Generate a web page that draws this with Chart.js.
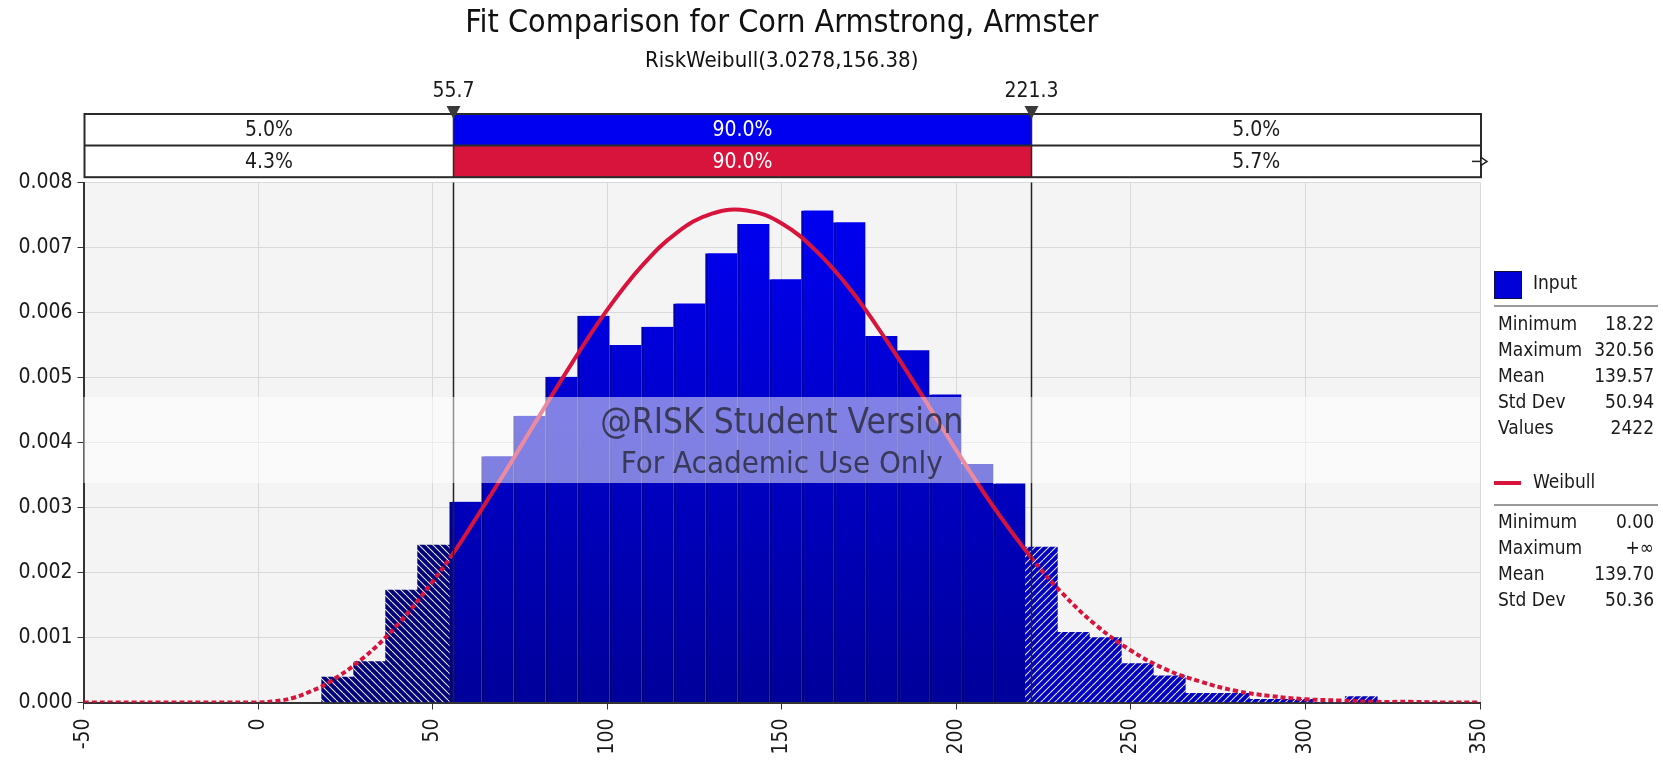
<!DOCTYPE html>
<html>
<head>
<meta charset="utf-8">
<title>Fit Comparison for Corn Armstrong, Armster</title>
<script src="https://cdn.jsdelivr.net/npm/chart.js@4.4.1/dist/chart.umd.min.js"></script>
<style>
  html, body { margin: 0; padding: 0; background: #fff; }
</style>
</head>
<body>
<canvas id="fitChart" width="1663" height="768"></canvas>
<script>
// histogram of the input (density per bin, 33 bins from the minimum)
var binStart = 18.22;
var binWidth = 9.162;
var inputDensity = [0.00039, 0.00063, 0.00173, 0.00242, 0.00309, 0.00379, 0.00441, 0.00501,
    0.00595, 0.00550, 0.00578, 0.00614, 0.00691, 0.00736, 0.00651, 0.00757, 0.00739,
    0.00564, 0.00542, 0.00474, 0.00367, 0.00337, 0.00239, 0.00108, 0.00100, 0.00060,
    0.00041, 0.00014, 0.00014, 0.00005, 0.00005, 0.00000, 0.00009];

// fitted Weibull curve
var curveX = [-50, 0, 5, 10, 15, 20, 30, 40, 50, 55.7, 60, 70, 80, 90, 100, 110, 120, 130, 140,
    150, 160, 170, 180, 190, 200, 210, 221.3, 230, 240, 250, 260, 270, 280, 290, 300,
    310, 320, 330, 340, 350];
var curveY = [0, 0, 0.00002, 0.00007, 0.00017, 0.00030, 0.00068, 0.00120, 0.00186, 0.00228,
    0.00263, 0.00348, 0.00436, 0.00523, 0.00604, 0.00672, 0.00723, 0.00752, 0.00757, 0.00737,
    0.00694, 0.00633, 0.00557, 0.00474, 0.00388, 0.00306, 0.00224, 0.00170, 0.00119,
    0.00080, 0.00051, 0.00032, 0.00018, 0.00010, 0.00005, 0.00003, 0.00001, 0.00001, 0, 0];

var leftDelimiter = 55.7;
var rightDelimiter = 221.3;
var inputBand = ['5.0%', '90.0%', '5.0%'];
var fitBand = ['4.3%', '90.0%', '5.7%'];

var inputStatLabels = ['Minimum', 'Maximum', 'Mean', 'Std Dev', 'Values'];
var inputStatValues = ['18.22', '320.56', '139.57', '50.94', '2422'];
var fitStatLabels = ['Minimum', 'Maximum', 'Mean', 'Std Dev'];
var fitStatValues = ['0.00', '+\u221E', '139.70', '50.36'];

var xMin = -50, xMax = 350, xStep = 50;
var yMin = 0, yMax = 0.008, yStep = 0.001;

var FONT = "'DejaVu Sans Condensed', 'Liberation Sans', Arial, sans-serif";
var INK = '#1a1a1a';
var BLUE = '#0000f0';
var CRIMSON = '#d8143c';

function makeHatch(base, back) {
    var t = 7;
    var c = document.createElement('canvas');
    c.width = t;
    c.height = t;
    var g = c.getContext('2d');
    g.fillStyle = base;
    g.fillRect(0, 0, t, t);
    g.strokeStyle = 'rgba(255,255,255,0.9)';
    g.lineWidth = 1.1;
    g.beginPath();
    for (var o = -t; o <= t; o += t) {
        if (back) {
            g.moveTo(o, 0);
            g.lineTo(o + t, t);
        } else {
            g.moveTo(o, t);
            g.lineTo(o + t, 0);
        }
    }
    g.stroke();
    return g.createPattern(c, 'repeat');
}

var hatchLeft = makeHatch('#000078', true);
var hatchRight = makeHatch('#0000c0', false);

var histPoints = inputDensity.map(function (v, i) {
    return { x: binStart + (i + 0.5) * binWidth, y: v };
});
var curvePoints = curveX.map(function (x, i) {
    return { x: x, y: curveY[i] };
});

function binZone(i) {
    var c = binStart + (i + 0.5) * binWidth;
    if (c < leftDelimiter) return 'left';
    if (c > rightDelimiter) return 'right';
    return 'mid';
}

function vGradient(chart, bottom, top) {
    var area = chart.chartArea;
    if (!area) return top;
    var g = chart.ctx.createLinearGradient(0, area.bottom, 0, area.top);
    g.addColorStop(0, bottom);
    g.addColorStop(1, top);
    return g;
}

var decor = {
    id: 'decor',
    beforeDraw: function (chart) {
        var ctx = chart.ctx, a = chart.chartArea;
        ctx.save();
        ctx.fillStyle = '#ffffff';
        ctx.fillRect(0, 0, chart.width, chart.height);
        ctx.fillStyle = '#f4f4f4';
        ctx.fillRect(a.left, a.top, a.right - a.left, a.bottom - a.top);
        ctx.restore();
    },
    afterDatasetsDraw: function (chart) {
        var ctx = chart.ctx, a = chart.chartArea, xs = chart.scales.x;
        ctx.save();
        // delimiter lines through the plot
        ctx.strokeStyle = '#222';
        ctx.lineWidth = 1.5;
        [leftDelimiter, rightDelimiter].forEach(function (v) {
            var px = Math.round(xs.getPixelForValue(v)) + 0.5;
            ctx.beginPath();
            ctx.moveTo(px, a.top);
            ctx.lineTo(px, a.bottom);
            ctx.stroke();
        });
        // student version watermark
        ctx.fillStyle = 'rgba(255,255,255,0.5)';
        ctx.fillRect(a.left, 397, a.right - a.left, 86);
        var cx = (a.left + a.right) / 2;
        ctx.fillStyle = 'rgba(45,45,65,0.85)';
        ctx.textAlign = 'center';
        ctx.textBaseline = 'alphabetic';
        ctx.font = '35px ' + FONT;
        ctx.fillText('@RISK Student Version', cx, 433);
        ctx.font = '31px ' + FONT;
        ctx.fillText('For Academic Use Only', cx, 473);
        ctx.restore();
    },
    afterDraw: function (chart) {
        var ctx = chart.ctx, a = chart.chartArea, xs = chart.scales.x;
        var left = a.left + 1, right = a.right + 1;
        var pL = Math.round(xs.getPixelForValue(leftDelimiter)) + 0.5;
        var pR = Math.round(xs.getPixelForValue(rightDelimiter)) + 0.5;
        var top = 114, rowH = 31.6;
        ctx.save();

        // probability bands
        ctx.fillStyle = BLUE;
        ctx.fillRect(pL, top, pR - pL, rowH);
        ctx.fillStyle = CRIMSON;
        ctx.fillRect(pL, top + rowH, pR - pL, rowH);
        ctx.strokeStyle = '#2a2a2a';
        ctx.lineWidth = 2;
        ctx.strokeRect(left, top, right - left, rowH * 2);
        ctx.beginPath();
        ctx.moveTo(left, top + rowH);
        ctx.lineTo(right, top + rowH);
        ctx.stroke();
        ctx.lineWidth = 1.5;
        ctx.beginPath();
        ctx.moveTo(pL, top);
        ctx.lineTo(pL, top + rowH * 2);
        ctx.moveTo(pR, top);
        ctx.lineTo(pR, top + rowH * 2);
        ctx.stroke();

        ctx.font = '21px ' + FONT;
        ctx.textAlign = 'center';
        ctx.textBaseline = 'middle';
        var centres = [(left + pL) / 2, (pL + pR) / 2, (pR + right) / 2];
        [inputBand, fitBand].forEach(function (row, r) {
            row.forEach(function (txt, k) {
                ctx.fillStyle = k === 1 ? '#ffffff' : INK;
                ctx.fillText(txt, centres[k], top + rowH * r + rowH / 2 + 1);
            });
        });

        // small arrow at the end of the fit row
        ctx.strokeStyle = '#222';
        ctx.lineWidth = 1.5;
        ctx.beginPath();
        ctx.moveTo(right - 9, top + rowH * 1.5);
        ctx.lineTo(right, top + rowH * 1.5);
        ctx.stroke();
        ctx.beginPath();
        ctx.moveTo(right, top + rowH * 1.5 - 4);
        ctx.lineTo(right + 6, top + rowH * 1.5);
        ctx.lineTo(right, top + rowH * 1.5 + 4);
        ctx.closePath();
        ctx.fillStyle = '#fff';
        ctx.fill();
        ctx.stroke();

        // delimiter markers and values
        ctx.fillStyle = '#3a3a3a';
        [pL, pR].forEach(function (px) {
            ctx.beginPath();
            ctx.moveTo(px - 7, 106);
            ctx.lineTo(px + 7, 106);
            ctx.lineTo(px, 119);
            ctx.closePath();
            ctx.fill();
        });
        ctx.fillStyle = INK;
        ctx.fillText(String(leftDelimiter), pL, 92);
        ctx.fillText(String(rightDelimiter), pR, 92);

        // statistics legend
        var lx = 1494;
        var vx = 1654;
        ctx.fillStyle = '#0000d8';
        ctx.fillRect(lx, 271, 27, 27);
        ctx.strokeStyle = '#101040';
        ctx.lineWidth = 1;
        ctx.strokeRect(lx + 0.5, 271.5, 27, 27);
        ctx.fillStyle = INK;
        ctx.textAlign = 'left';
        ctx.font = '19px ' + FONT;
        ctx.fillText('Input', 1533, 284);

        ctx.strokeStyle = '#9a9a9a';
        ctx.lineWidth = 2;
        ctx.beginPath();
        ctx.moveTo(lx, 306);
        ctx.lineTo(1658, 306);
        ctx.moveTo(lx, 505);
        ctx.lineTo(1658, 505);
        ctx.stroke();

        inputStatLabels.forEach(function (lab, i) {
            var y = 325 + i * 26;
            ctx.textAlign = 'left';
            ctx.fillText(lab, 1498, y);
            ctx.textAlign = 'right';
            ctx.fillText(inputStatValues[i], vx, y);
        });

        ctx.strokeStyle = CRIMSON;
        ctx.lineWidth = 4;
        ctx.beginPath();
        ctx.moveTo(lx, 483);
        ctx.lineTo(lx + 27, 483);
        ctx.stroke();
        ctx.textAlign = 'left';
        ctx.fillText('Weibull', 1533, 483);

        fitStatLabels.forEach(function (lab, i) {
            var y = 523 + i * 26;
            ctx.textAlign = 'left';
            ctx.fillText(lab, 1498, y);
            ctx.textAlign = 'right';
            ctx.fillText(fitStatValues[i], vx, y);
        });
        ctx.restore();
    }
};

var ctx = document.getElementById('fitChart').getContext('2d');
var fitChart = new Chart(ctx, {
    type: 'bar',
    data: {
        datasets: [{
            type: 'line',
            label: 'Weibull',
            data: curvePoints,
            order: 0,
            borderColor: CRIMSON,
            borderWidth: 4,
            pointRadius: 0,
            fill: false,
            tension: 0.4,
            segment: {
                borderDash: function (c) {
                    var a = c.p0.parsed.x, b = c.p1.parsed.x;
                    return (b <= leftDelimiter || a >= rightDelimiter) ? [5, 3] : undefined;
                }
            }
        }, {
            type: 'bar',
            label: 'Input',
            data: histPoints,
            order: 1,
            barPercentage: 1,
            categoryPercentage: 1,
            grouped: false,
            backgroundColor: function (c) {
                var z = binZone(c.dataIndex);
                if (z === 'left') return hatchLeft;
                if (z === 'right') return hatchRight;
                return vGradient(c.chart, '#00009a', '#0000f6');
            },
            borderColor: function (c) {
                return vGradient(c.chart, '#000070', '#0000c4');
            },
            borderWidth: function (c) {
                return binZone(c.dataIndex) === 'mid' ? { left: 3, right: 0, top: 0, bottom: 0 } : 0;
            },
            borderSkipped: false
        }]
    },
    plugins: [decor],
    options: {
        responsive: false,
        animation: false,
        layout: { padding: { top: 0, right: 183, bottom: 0, left: 0 } },
        scales: {
            x: {
                type: 'linear',
                min: xMin,
                max: xMax,
                offset: false,
                afterFit: function (s) { s.height = 65.5; },
                ticks: {
                    stepSize: xStep,
                    autoSkip: false,
                    minRotation: 90,
                    maxRotation: 90,
                    padding: 9,
                    color: INK,
                    font: { family: FONT, size: 21 }
                },
                grid: { offset: false, color: '#d9d9d9', lineWidth: 1, tickLength: 7, tickColor: '#333' },
                border: { color: '#333', width: 2 }
            },
            y: {
                min: yMin,
                max: yMax,
                afterFit: function (s) { s.width = 83.5; },
                ticks: {
                    stepSize: yStep,
                    padding: 5,
                    color: INK,
                    font: { family: FONT, size: 21 },
                    callback: function (v) { return v.toFixed(3); }
                },
                grid: { color: '#d9d9d9', lineWidth: 1, tickLength: 6, tickColor: '#333' },
                border: { color: '#333', width: 2 }
            }
        },
        plugins: {
            legend: { display: false },
            tooltip: { enabled: false },
            title: {
                display: true,
                text: 'Fit Comparison for Corn Armstrong, Armster',
                fullSize: false,
                color: '#111',
                font: { family: FONT, size: 32, weight: 'normal' },
                padding: { top: 4, bottom: 0 }
            },
            subtitle: {
                display: true,
                text: 'RiskWeibull(3.0278,156.38)',
                fullSize: false,
                color: '#111',
                font: { family: FONT, size: 22, weight: 'normal' },
                padding: { top: 5.7, bottom: 108 }
            }
        }
    }
});
</script>
</body>
</html>
